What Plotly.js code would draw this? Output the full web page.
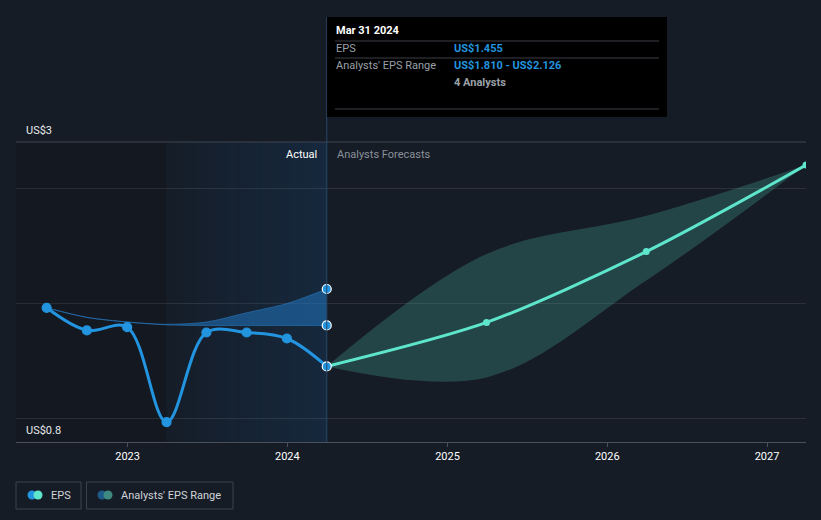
<!DOCTYPE html>
<html>
<head>
<meta charset="utf-8">
<script src="https://cdn.plot.ly/plotly-3.0.1.min.js"></script>
<style>
html,body{margin:0;padding:0;background:#161c26;}
#chart{width:821px;height:520px;}
</style>
</head>
<body>
<div id="chart"></div>
<script>
// ---- data ----
const pastDates = ['2022-06-30','2022-09-30','2022-12-31','2023-03-31','2023-06-30','2023-09-30','2023-12-31','2024-03-31'];
const pastEps = [1.963, 1.767, 1.795, 0.973, 1.749, 1.749, 1.697, 1.455];
const pastRangeLow = [1.963, 1.88, 1.84, 1.815, 1.81, 1.81, 1.81, 1.81];
const pastRangeHigh = [1.963, 1.88, 1.84, 1.82, 1.84, 1.92, 2.00, 2.126];
const fcDates = ['2024-03-31','2025-03-31','2026-03-31','2027-03-31'];
const fcEps = [1.455, 1.836, 2.45, 3.20];
const fcLow = [1.455, 1.36, 2.20, 3.20];
const fcHigh = [1.455, 2.43, 2.76, 3.20];
const xTickVals = ['2023-01-01','2024-01-01','2025-01-01','2026-01-01','2027-01-01'];
const xTickText = ['2023','2024','2025','2026','2027'];
const yGrid = [1, 2, 3];

// ---- geometry helpers (paper coords from pixel) ----
const L = 16, R = 806, T = 142, B = 442;
const px = x => (x - L) / (R - L);
const py = y => (B - y) / (B - T);
const FONT = 'Roboto, "Open Sans", sans-serif';

const traces = [
  {x: fcDates, y: fcLow, mode: 'lines', line: {color: 'rgba(0,0,0,0)', width: 0, shape: 'spline', smoothing: 1}, hoverinfo: 'skip'},
  {x: fcDates, y: fcHigh, mode: 'lines', fill: 'tonexty', fillcolor: 'rgba(80,190,175,0.25)', line: {color: 'rgba(0,0,0,0)', width: 0, shape: 'spline', smoothing: 1}, hoverinfo: 'skip'},
  {x: pastDates, y: pastRangeLow, mode: 'lines', line: {color: 'rgba(40,120,190,0.6)', width: 1, shape: 'spline', smoothing: 0.8}, hoverinfo: 'skip'},
  {x: pastDates, y: pastRangeHigh, mode: 'lines', fill: 'tonexty', fillcolor: 'rgba(32,110,180,0.6)', line: {color: 'rgba(40,120,190,0.6)', width: 1, shape: 'spline', smoothing: 0.8}, hoverinfo: 'skip'},
  {x: fcDates, y: fcEps, mode: 'lines+markers', line: {color: '#5ee6cc', width: 3, shape: 'spline', smoothing: 0.8}, marker: {color: '#5ee6cc', size: 7}, cliponaxis: true},
  {x: pastDates, y: pastEps, mode: 'lines+markers', line: {color: '#2394df', width: 3, shape: 'spline', smoothing: 1}, marker: {color: '#2394df', size: 9, line: {color: pastDates.map((d,i)=> i === pastDates.length-1 ? '#ffffff' : '#2394df'), width: 1.2}}},
  {x: [pastDates[pastDates.length-1], pastDates[pastDates.length-1]], y: [pastRangeLow[pastRangeLow.length-1], pastRangeHigh[pastRangeHigh.length-1]], mode: 'markers', marker: {color: '#2394df', size: 9, line: {color: '#ffffff', width: 1.2}}}
];

const shapes = [];
// darker region before last year of actuals
shapes.push({type: 'rect', xref: 'x', yref: 'paper', x0: '2022-04-21', x1: '2023-03-31', y0: 0, y1: 1, fillcolor: 'rgba(0,0,0,0.12)', line: {width: 0}, layer: 'below'});
// blue gradient for last year
const N = 40;
const start = new Date('2023-03-31').getTime(), end = new Date('2024-03-31').getTime();
for (let i = 0; i < N; i++) {
  const a = new Date(start + (end - start) * i / N).toISOString();
  const b = new Date(start + (end - start) * (i + 1) / N).toISOString();
  shapes.push({type: 'rect', xref: 'x', yref: 'paper', x0: a, x1: b, y0: 0, y1: 1, fillcolor: 'rgba(25,90,150,' + (0.03 + 0.18 * i / (N - 1)).toFixed(3) + ')', line: {width: 0}, layer: 'below'});
}
// top border line
shapes.push({type: 'line', xref: 'paper', yref: 'paper', x0: 0, x1: 1, y0: 1, y1: 1, line: {color: '#3e4550', width: 1}});
// vertical "now" line
shapes.push({type: 'line', xref: 'x', yref: 'paper', x0: '2024-03-31', x1: '2024-03-31', y0: 0, y1: py(17), line: {color: '#24476a', width: 1}});
// tooltip box
shapes.push({type: 'rect', xref: 'paper', yref: 'paper', x0: px(327), x1: px(667), y0: py(117), y1: py(17), fillcolor: '#000000', line: {width: 0}});
[41, 58, 109].forEach(y => shapes.push({type: 'line', xref: 'paper', yref: 'paper', x0: px(335), x1: px(659), y0: py(y), y1: py(y), line: {color: '#3a3f46', width: 1}}));
// legend boxes
shapes.push({type: 'rect', xref: 'paper', yref: 'paper', x0: px(16), x1: px(81), y0: py(509), y1: py(482), line: {color: '#3c424c', width: 1}, fillcolor: 'rgba(0,0,0,0)'});
shapes.push({type: 'rect', xref: 'paper', yref: 'paper', x0: px(86.5), x1: px(233), y0: py(509), y1: py(482), line: {color: '#3c424c', width: 1}, fillcolor: 'rgba(0,0,0,0)'});
function dot(cx, cy, r, color) {
  shapes.push({type: 'circle', xref: 'paper', yref: 'paper', x0: px(cx - r), x1: px(cx + r), y0: py(cy + r), y1: py(cy - r), fillcolor: color, line: {width: 0}});
}
dot(32, 495, 4.5, '#2394df'); dot(38, 495, 4.5, '#5ee6cc');
dot(102, 495, 4.5, '#1f5b8a'); dot(108, 495, 4.5, '#3f8a80');

function ann(text, x, y, opts) {
  return Object.assign({text: text, xref: 'paper', yref: 'paper', x: px(x), y: py(y), xanchor: 'left', yanchor: 'middle', showarrow: false, font: {family: FONT, size: 11, color: '#ffffff'}}, opts || {});
}
const annotations = [
  ann('US$3', 24, 130, {font: {family: FONT, size: 11, color: '#e8eaed'}}),
  ann('US$0.8', 24, 430, {font: {family: FONT, size: 11, color: '#e8eaed'}}),
  ann('Actual', 319, 154, {xanchor: 'right', font: {family: FONT, size: 11, color: '#ffffff'}}),
  ann('Analysts Forecasts', 335, 154, {font: {family: FONT, size: 11, color: '#8a9099'}}),
  ann('<b>Mar 31 2024</b>', 334, 31, {font: {family: FONT, size: 11, color: '#ffffff'}}),
  ann('EPS', 334, 49, {font: {family: FONT, size: 11, color: '#9aa0a8'}}),
  ann('<b>US$1.455</b>', 452, 49, {font: {family: FONT, size: 11, color: '#2394df'}}),
  ann("Analysts' EPS Range", 334, 66, {font: {family: FONT, size: 11, color: '#9aa0a8'}}),
  ann('<b>US$1.810 - US$2.126</b>', 452, 66, {font: {family: FONT, size: 11, color: '#2394df'}}),
  ann('<b>4 Analysts</b>', 452, 83, {font: {family: FONT, size: 11, color: '#9aa0a8'}}),
  ann('EPS', 49, 495, {font: {family: FONT, size: 11, color: '#d0d4da'}}),
  ann("Analysts' EPS Range", 119, 495, {font: {family: FONT, size: 11, color: '#d0d4da'}})
];

const layout = {
  width: 821, height: 520,
  margin: {l: L, r: 821 - R, t: T, b: 520 - B, pad: 0},
  paper_bgcolor: '#161c26', plot_bgcolor: '#161c26',
  showlegend: false,
  hovermode: false,
  xaxis: {
    type: 'date', range: ['2022-04-21', '2027-03-31'],
    tickvals: xTickVals, ticktext: xTickText,
    ticks: 'outside', ticklen: 4, tickcolor: '#4a505a',
    showgrid: false, zeroline: false,
    showline: true, linecolor: '#4a505a', linewidth: 1,
    tickfont: {family: FONT, size: 11, color: '#ffffff'}
  },
  yaxis: {
    range: [0.8, 3.4], tickvals: yGrid, showticklabels: false,
    showgrid: true, gridcolor: 'rgba(255,255,255,0.09)', gridwidth: 1,
    zeroline: false, showline: false, fixedrange: true
  },
  shapes: shapes,
  annotations: annotations
};

Plotly.newPlot('chart', traces, layout, {displayModeBar: false, staticPlot: true});
</script>
</body>
</html>
